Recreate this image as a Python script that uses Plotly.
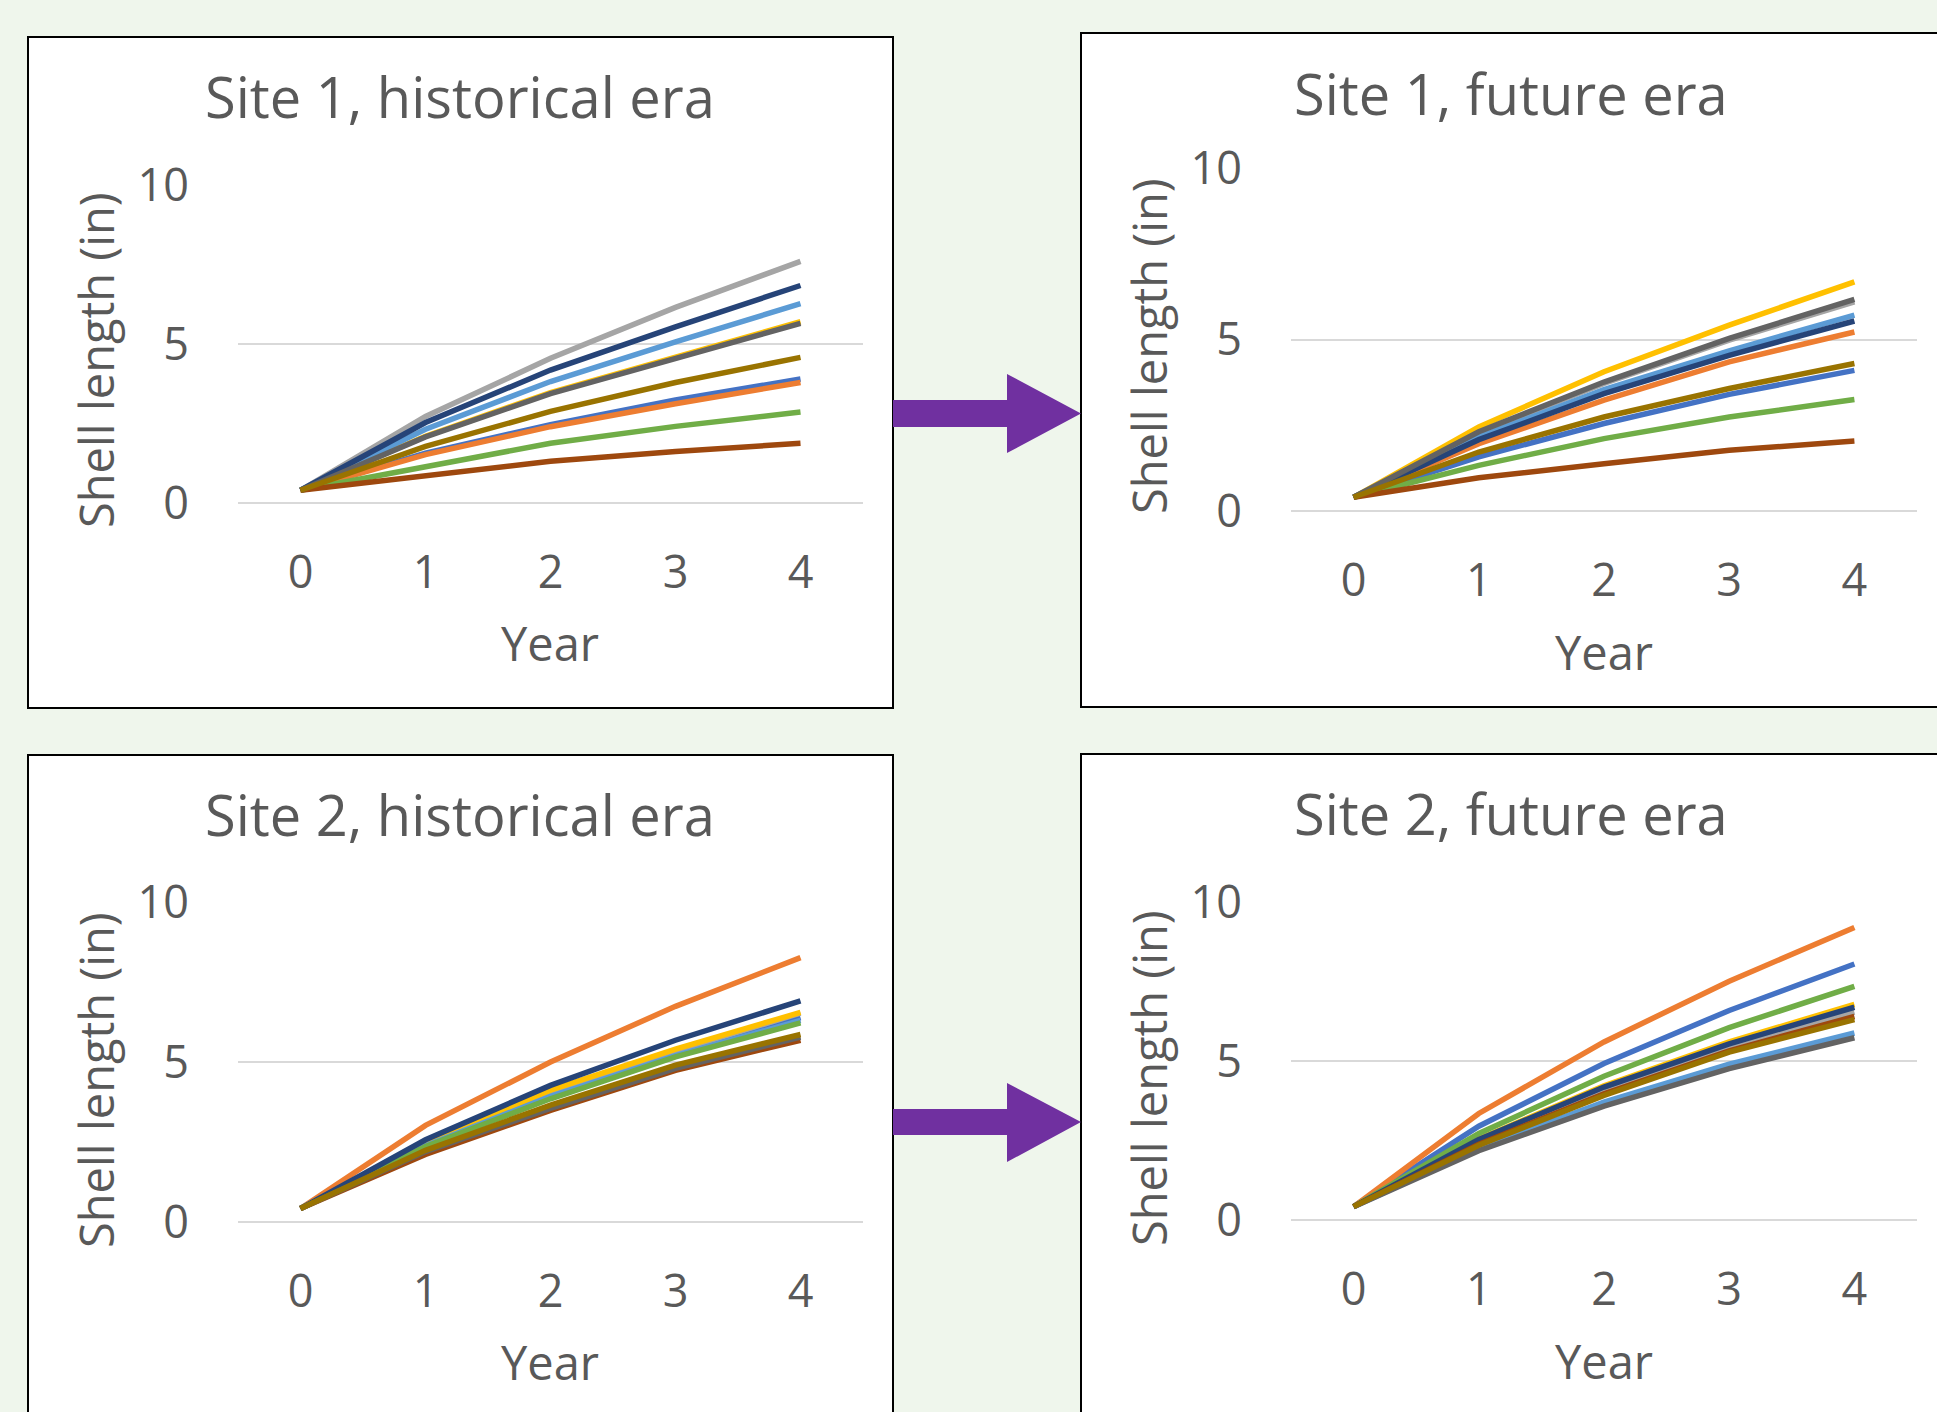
import plotly.graph_objects as go

W, H = 1937, 1412

years = [0, 1, 2, 3, 4]
year_labels = ["0", "1", "2", "3", "4"]
y_ticks = [0, 5, 10]

series_colors = ["#4472C4", "#ED7D31", "#A5A5A5", "#FFC000", "#5B9BD5",
                 "#70AD47", "#264478", "#9E480E", "#636363", "#997300"]

panel_titles = ["Site 1, historical era", "Site 1, future era",
                "Site 2, historical era", "Site 2, future era"]

# Shell length (in) by year; one row per series (colour order above)
site1_historical = [
    [0.40, 1.57, 2.46, 3.24, 3.90],
    [0.40, 1.52, 2.40, 3.12, 3.79],
    [0.40, 2.72, 4.55, 6.15, 7.60],
    [0.40, 2.10, 3.47, 4.57, 5.70],
    [0.40, 2.32, 3.82, 5.07, 6.27],
    [0.40, 1.15, 1.88, 2.41, 2.86],
    [0.40, 2.53, 4.18, 5.54, 6.84],
    [0.40, 0.86, 1.31, 1.62, 1.88],
    [0.40, 2.08, 3.44, 4.53, 5.65],
    [0.40, 1.78, 2.88, 3.79, 4.58],
]
site1_future = [
    [0.40, 1.58, 2.55, 3.40, 4.10],
    [0.40, 1.96, 3.23, 4.35, 5.22],
    [0.40, 2.28, 3.72, 4.98, 6.10],
    [0.40, 2.45, 4.06, 5.42, 6.68],
    [0.40, 2.16, 3.54, 4.67, 5.71],
    [0.40, 1.33, 2.11, 2.74, 3.25],
    [0.40, 2.08, 3.42, 4.54, 5.54],
    [0.40, 0.97, 1.38, 1.77, 2.04],
    [0.40, 2.31, 3.76, 5.03, 6.17],
    [0.40, 1.72, 2.74, 3.57, 4.30],
]
site2_historical = [
    [0.42, 2.40, 3.97, 5.24, 6.39],
    [0.42, 3.02, 5.00, 6.74, 8.26],
    [0.42, 2.45, 4.06, 5.34, 6.53],
    [0.42, 2.48, 4.12, 5.40, 6.55],
    [0.42, 2.38, 3.93, 5.20, 6.30],
    [0.42, 2.36, 3.85, 5.16, 6.22],
    [0.42, 2.57, 4.27, 5.68, 6.91],
    [0.42, 2.11, 3.49, 4.74, 5.68],
    [0.42, 2.20, 3.55, 4.80, 5.78],
    [0.42, 2.24, 3.65, 4.90, 5.86],
]
site2_future = [
    [0.42, 2.95, 4.92, 6.59, 8.05],
    [0.42, 3.35, 5.60, 7.51, 9.20],
    [0.42, 2.45, 4.08, 5.42, 6.54],
    [0.42, 2.55, 4.22, 5.60, 6.78],
    [0.42, 2.25, 3.71, 4.90, 5.88],
    [0.42, 2.72, 4.52, 6.05, 7.35],
    [0.42, 2.53, 4.18, 5.54, 6.69],
    [0.42, 2.38, 3.97, 5.32, 6.40],
    [0.42, 2.18, 3.58, 4.76, 5.73],
    [0.42, 2.35, 3.92, 5.28, 6.30],
]
panels_data = [site1_historical, site1_future, site2_historical, site2_future]

TEXT = "#595959"
FONT = "Open Sans"


def px(x):
    return x / W


def py(y):
    return 1 - y / H


# plot-area pixel boxes (left, right, top, bottom)
plot_boxes = [(238, 863, 185, 503), (1291, 1917, 168, 511),
              (238, 863, 902, 1222), (1291, 1917, 902, 1220)]
panel_boxes = [(28, 893, 37, 708), (1081, 1945, 33, 707),
               (28, 893, 755, 1425), (1081, 1945, 754, 1425)]
title_pos = [(460, 96), (1511, 93), (460, 814), (1511, 813)]
year_pos = [(550, 643), (1604, 652), (550, 1362), (1604, 1361)]
ytitle_pos = [(96, 360), (1149, 346), (96, 1080), (1149, 1078)]

fig = go.Figure()
layout = dict(width=W, height=H, autosize=False,
              margin=dict(l=0, r=0, t=0, b=0, pad=0, autoexpand=False),
              paper_bgcolor="#EFF6EC", plot_bgcolor="rgba(0,0,0,0)",
              showlegend=False, font=dict(family=FONT, color=TEXT))
shapes = []
annotations = []

for i, data in enumerate(panels_data):
    n = "" if i == 0 else str(i + 1)
    L, R, T, B = plot_boxes[i]
    for k, vals in enumerate(data):
        fig.add_trace(go.Scatter(x=years, y=vals, mode="lines",
                                 line=dict(color=series_colors[k], width=5.5),
                                 xaxis="x" + n, yaxis="y" + n, hoverinfo="skip"))
    layout["xaxis" + n] = dict(domain=[px(L), px(R)], range=[-0.5, 4.5], anchor="y" + n,
                               tickmode="array", tickvals=years, ticktext=year_labels,
                               showgrid=False, zeroline=False, showline=False,
                               automargin=False,
                               ticks="", ticklabelstandoff=39,
                               tickfont=dict(family=FONT, size=45, color=TEXT))
    layout["yaxis" + n] = dict(domain=[py(B), py(T)], range=[0, 10], anchor="x" + n,
                               tickmode="array", tickvals=y_ticks,
                               showgrid=True, gridcolor="#D9D9D9", gridwidth=2,
                               zeroline=True, zerolinecolor="#D9D9D9", zerolinewidth=2,
                               showline=False, automargin=False,
                               ticks="", ticklabelstandoff=48,
                               tickfont=dict(family=FONT, size=45, color=TEXT))
    pl, pr, pt, pb = panel_boxes[i]
    shapes.append(dict(type="rect", xref="paper", yref="paper", layer="below",
                       x0=px(pl), x1=px(pr), y0=py(pb), y1=py(pt),
                       fillcolor="white", line=dict(color="black", width=2)))
    tx, ty = title_pos[i]
    annotations.append(dict(text=panel_titles[i], xref="paper", yref="paper",
                            x=px(tx), y=py(ty), xanchor="center", yanchor="middle",
                            showarrow=False, font=dict(family=FONT, size=56, color=TEXT)))
    ax_, ay_ = year_pos[i]
    annotations.append(dict(text="Year", xref="paper", yref="paper",
                            x=px(ax_), y=py(ay_), xanchor="center", yanchor="middle",
                            showarrow=False, font=dict(family=FONT, size=47, color=TEXT)))
    yx, yy = ytitle_pos[i]
    annotations.append(dict(text="Shell length (in)", xref="paper", yref="paper",
                            x=px(yx), y=py(yy), xanchor="center", yanchor="middle",
                            textangle=-90, showarrow=False,
                            font=dict(family=FONT, size=47, color=TEXT)))

# purple arrows between panels
for (s0, s1, h0, h1, tip) in [(400, 427, 374, 453, 413.5), (1109, 1135, 1083, 1162, 1122)]:
    pts = [(893, s0), (1007, s0), (1007, h0), (1081, tip), (1007, h1), (1007, s1), (893, s1)]
    path = "M " + " L ".join(f"{px(a):.5f},{py(b):.5f}" for a, b in pts) + " Z"
    shapes.append(dict(type="path", xref="paper", yref="paper", path=path,
                       fillcolor="#7030A0", line=dict(width=0), layer="above"))

layout["shapes"] = shapes
layout["annotations"] = annotations
layout["template"] = "none"
fig.update_layout(**layout)
fig.write_html("out.html", config={"displayModeBar": False},
               post_script="document.body.style.margin='0';document.body.style.overflow='hidden';")
